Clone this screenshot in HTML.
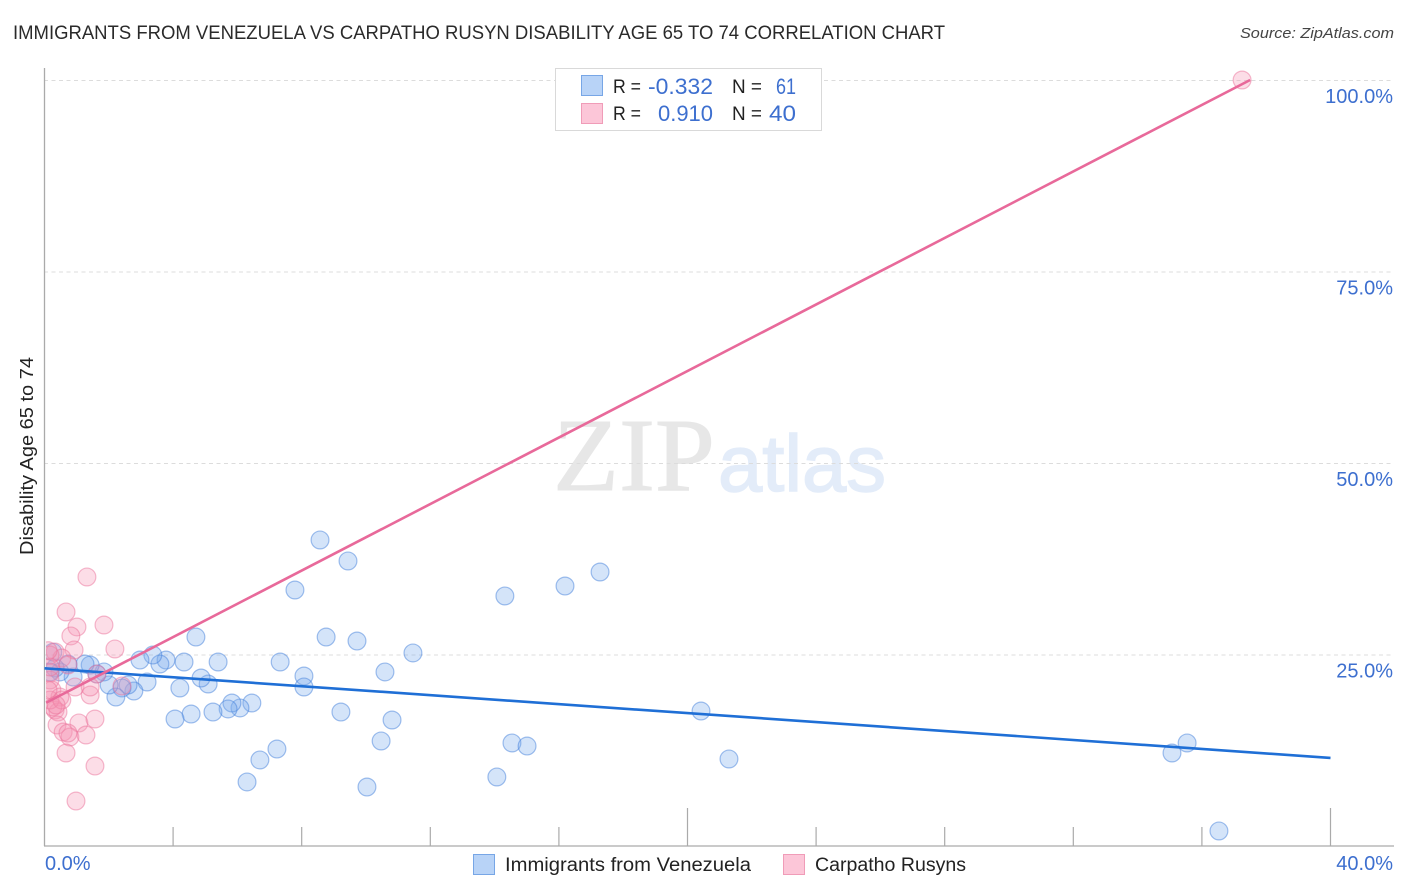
<!DOCTYPE html>
<html lang="en">
<head>
<meta charset="utf-8">
<title>Immigrants from Venezuela vs Carpatho Rusyn Disability Age 65 to 74 Correlation Chart</title>
<style>
html,body{margin:0;padding:0;background:#fff;width:1406px;height:892px;overflow:hidden}
svg{display:block}
text{font-family:"Liberation Sans",sans-serif}
</style>
</head>
<body>
<svg id="chart" width="1406" height="892" viewBox="0 0 1406 892" xmlns="http://www.w3.org/2000/svg">
  <defs>
    <clipPath id="plot-clip"><rect x="46" y="60" width="1350" height="786"/></clipPath>
  </defs>
  <text x="13" y="39" font-size="19" fill="#2a2a2a" textLength="932" lengthAdjust="spacingAndGlyphs">IMMIGRANTS FROM VENEZUELA VS CARPATHO RUSYN DISABILITY AGE 65 TO 74 CORRELATION CHART</text>
  <text x="1394" y="38" font-size="15" font-style="italic" fill="#444" text-anchor="end" textLength="154" lengthAdjust="spacingAndGlyphs">Source: ZipAtlas.com</text>

  <g>
    <text x="553" y="490" font-size="104" fill="#e7e7e7" stroke="#e7e7e7" stroke-width="1" style="font-family:'Liberation Serif',serif" textLength="162" lengthAdjust="spacingAndGlyphs">ZIP</text>
    <text x="718" y="491" font-size="80" fill="#e3ecf9" stroke="#e3ecf9" stroke-width="1.5" textLength="168" lengthAdjust="spacingAndGlyphs">atlas</text>
  </g>

  <g id="grid"></g>
  <g id="axes"></g>
  <g id="blue-points" clip-path="url(#plot-clip)"></g>
  <g id="pink-points" clip-path="url(#plot-clip)"></g>
  <g id="trends"></g>

  <text transform="translate(33,456) rotate(-90)" font-size="18" fill="#222" text-anchor="middle" textLength="198" lengthAdjust="spacingAndGlyphs">Disability Age 65 to 74</text>

  <g>
    <rect x="555.5" y="68.5" width="266" height="62" fill="#fff" stroke="#d9d9d9"/>
    <rect x="581.5" y="75.5" width="21" height="20" fill="#b8d3f7" stroke="#77a6e6"/>
    <rect x="581.5" y="103.5" width="21" height="20" fill="#fcc6d8" stroke="#f09cb8"/>
    <text x="613" y="93" font-size="19" fill="#222" textLength="28" lengthAdjust="spacingAndGlyphs">R =</text>
    <text x="648" y="94" font-size="22" fill="#3d6fcf" textLength="65" lengthAdjust="spacingAndGlyphs">-0.332</text>
    <text x="732" y="93" font-size="19" fill="#222" textLength="30" lengthAdjust="spacingAndGlyphs">N =</text>
    <text x="776" y="94" font-size="22" fill="#3d6fcf" textLength="20" lengthAdjust="spacingAndGlyphs">61</text>
    <text x="613" y="120" font-size="19" fill="#222" textLength="28" lengthAdjust="spacingAndGlyphs">R =</text>
    <text x="658" y="121" font-size="22" fill="#3d6fcf" textLength="55" lengthAdjust="spacingAndGlyphs">0.910</text>
    <text x="732" y="120" font-size="19" fill="#222" textLength="30" lengthAdjust="spacingAndGlyphs">N =</text>
    <text x="769" y="121" font-size="22" fill="#3d6fcf" textLength="27" lengthAdjust="spacingAndGlyphs">40</text>
  </g>

  <g>
    <rect x="473.5" y="854.5" width="21" height="20" fill="#b8d3f7" stroke="#77a6e6"/>
    <text x="505" y="871" font-size="19" fill="#222" textLength="246" lengthAdjust="spacingAndGlyphs">Immigrants from Venezuela</text>
    <rect x="783.5" y="854.5" width="21" height="20" fill="#fcc6d8" stroke="#f09cb8"/>
    <text x="815" y="871" font-size="19" fill="#222" textLength="151" lengthAdjust="spacingAndGlyphs">Carpatho Rusyns</text>
  </g>
</svg>
<script>
const blueX = [36.53,35.07,35.54,21.29,20.42,17.28,16.19,14.32,14.07,14.54,15.01,11.46,10.59,10.81,10.47,10.03,9.72,9.44,9.22,8.57,8.76,7.79,8.07,8.07,7.33,7.23,6.7,6.45,6.3,6.08,5.83,5.71,5.4,5.24,5.09,4.87,4.71,4.56,4.34,4.21,4.06,3.78,3.59,3.37,3.19,2.97,2.78,2.6,2.41,2.22,2.01,1.85,1.63,1.42,1.26,0.89,0.73,0.48,0.33,0.17,0.26];
const blueY = [1.96,12.14,13.45,11.36,17.62,35.77,33.94,32.64,9.01,13.45,13.05,25.2,22.72,16.45,13.71,7.7,26.76,37.21,17.49,39.95,27.28,33.42,22.19,20.76,24.02,12.66,11.23,18.67,8.36,18.02,18.67,17.89,24.02,17.49,21.15,21.93,27.28,17.23,24.02,20.63,16.58,24.28,23.76,24.93,21.41,24.28,20.23,21.02,20.63,19.45,21.02,22.72,22.45,23.63,23.76,22.06,23.76,22.72,23.24,22.72,25.3];
const pinkX = [37.25,1.32,0.67,1.01,0.82,1.85,0.92,2.19,0.33,0.54,0.73,1.63,0.95,1.42,1.42,2.41,0.23,0.48,0.33,0.42,0.26,1.07,1.57,0.39,0.58,0.79,1.29,0.67,1.57,0.98,0.17,0.17,0.17,0.17,0.17,0.54,0.11,0.73,0.11,0.36];
const pinkY = [100,35.12,30.55,28.59,27.42,28.85,25.59,25.72,25.33,24.54,23.63,22.45,20.76,19.71,20.76,20.89,20.37,19.45,17.75,17.49,18.15,16.06,16.58,15.8,14.88,14.23,14.49,12.14,10.44,5.87,24.93,22.58,21.67,23.37,19.06,19.06,20.37,14.75,25.5,18.41];
const blueTrendX = [0, 40];
const blueTrendY = [23.2, 11.5];
const pinkTrendX = [0.05, 37.5];
const pinkTrendY = [18.7, 100];
const xTicks = [0,4,8,12,16,20,24,28,32,36,40];
const yTicks = [25,50,75,100];
const yTickLabels = ['25.0%','50.0%','75.0%','100.0%'];
const xEndLabels = ['0.0%','40.0%'];

const NS = 'http://www.w3.org/2000/svg';
const sx = v => 44.5 + v * 32.15;
const sy = v => 846 - v * 7.66;
function mk(tag, parent, attrs, txt) {
  const el = document.createElementNS(NS, tag);
  for (const k in attrs) el.setAttribute(k, attrs[k]);
  if (txt !== undefined) el.textContent = txt;
  document.getElementById(parent).appendChild(el);
  return el;
}

yTicks.forEach((t, i) => {
  const line = mk('line', 'grid', {x1:44, x2:1394, y1:sy(t)+0.5, y2:sy(t)+0.5, stroke:'#dcdcdc', 'stroke-dasharray':'4 3.5'});
  
  
  const label = mk('text', 'axes', {x:1393, y:sy(t)+23, 'font-size':20, fill:'#3d6fcf', 'text-anchor':'end'}, yTickLabels[i]);
  
  
});

const yAxis = mk('line', 'axes', {x1:44.5, x2:44.5, y1:68, y2:846, stroke:'#aaa', 'stroke-width':1.3});


const xAxis = mk('line', 'axes', {x1:44, x2:1394, y1:846, y2:846, stroke:'#aaa', 'stroke-width':1.3});



xTicks.slice(1).forEach(t => {
  const h = (t === 20 || t === 40) ? 38 : 19;
  const tick = mk('line', 'axes', {x1:sx(t), x2:sx(t), y1:846-h, y2:846, stroke:'#aaa', 'stroke-width':1.2});
  
  
});

const xLabelStart = mk('text', 'axes', {x:45, y:870, 'font-size':20, fill:'#3d6fcf'}, xEndLabels[0]);


const xLabelEnd = mk('text', 'axes', {x:1393, y:870, 'font-size':20, fill:'#3d6fcf', 'text-anchor':'end'}, xEndLabels[1]);



blueX.forEach((v, i) => {
  const c = mk('circle', 'blue-points', {cx:sx(v), cy:sy(blueY[i]), r:8.9, fill:'rgba(120,170,235,0.32)', stroke:'rgba(70,130,220,0.5)', 'stroke-width':1.2});
  
  
});
pinkX.forEach((v, i) => {
  const c = mk('circle', 'pink-points', {cx:sx(v), cy:sy(pinkY[i]), r:8.9, fill:'rgba(245,150,180,0.32)', stroke:'rgba(235,115,155,0.5)', 'stroke-width':1.2});
  
  
});

const blueTrend = mk('line', 'trends', {x1:sx(blueTrendX[0]), y1:sy(blueTrendY[0]), x2:sx(blueTrendX[1]), y2:sy(blueTrendY[1]), stroke:'#1f6fd6', 'stroke-width':2.6});


const pinkTrend = mk('line', 'trends', {x1:sx(pinkTrendX[0]), y1:sy(pinkTrendY[0]), x2:sx(pinkTrendX[1]), y2:sy(pinkTrendY[1]), stroke:'#e8699a', 'stroke-width':2.6});


</script>
</body>
</html>
